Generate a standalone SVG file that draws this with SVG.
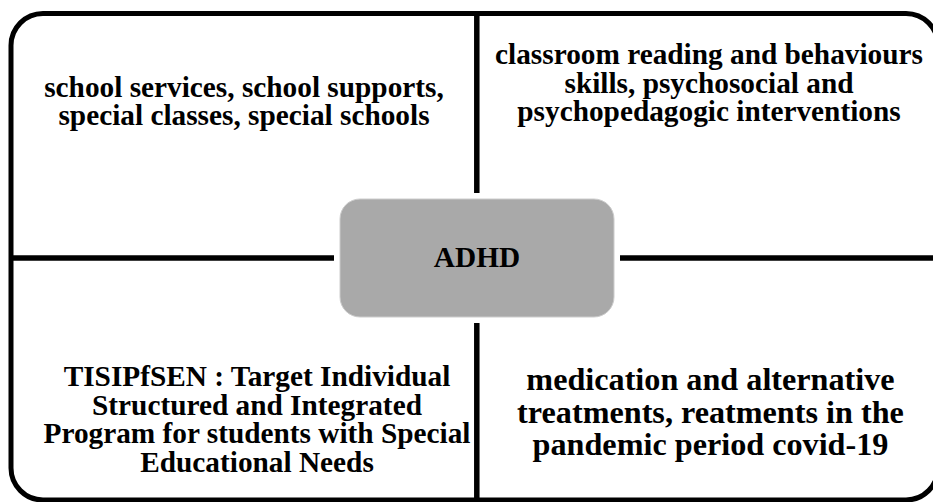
<svg xmlns="http://www.w3.org/2000/svg" width="933" height="502" viewBox="0 0 933 502">
<style>
.t{font-family:'Liberation Serif','Times New Roman',Times,serif;font-weight:700;fill:#000;text-anchor:middle}
.f29{font-size:29.3px}
.f32{font-size:32.2px}
.ln{stroke:#000;stroke-width:5.5;fill:none}
</style>
<rect x="0" y="0" width="933" height="502" fill="#fff"/>
<g id="frame">
<rect x="11" y="13.5" width="927" height="486.5" rx="32" ry="32" fill="none" stroke="#000" stroke-width="5"/>
</g>
<g id="connectors">
<line class="ln" x1="476.8" y1="13" x2="476.8" y2="193"/>
<line class="ln" x1="476.8" y1="323" x2="476.8" y2="500"/>
<line class="ln" x1="11" y1="258" x2="334" y2="258"/>
<line class="ln" x1="620" y1="258" x2="938" y2="258"/>
</g>
<g id="center">
<rect x="340" y="199" width="274" height="118" rx="20" ry="20" fill="#a9a9a9" stroke="#cccccc" stroke-width="1"/>
<text class="t f29" x="477" y="267">ADHD</text>
</g>
<g id="top-left">
<text class="t f29" x="244" y="97"><tspan x="244" y="97">school services, school supports,</tspan><tspan x="244" y="125">special classes, special schools</tspan></text>
</g>
<g id="top-right">
<text class="t f29" x="709" y="64"><tspan x="709" y="64">classroom reading and behaviours</tspan><tspan x="709" y="92.5">skills, psychosocial and</tspan><tspan x="709" y="121">psychopedagogic interventions</tspan></text>
</g>
<g id="bottom-left">
<text class="t f29" x="257" y="386"><tspan x="257" y="386">TISIPfSEN : Target Individual</tspan><tspan x="257" y="414.5">Structured and Integrated</tspan><tspan x="257" y="443">Program for students with Special</tspan><tspan x="257" y="471.5">Educational Needs</tspan></text>
</g>
<g id="bottom-right">
<text class="t f32" x="710.5" y="390"><tspan x="710.5" y="390">medication and alternative</tspan><tspan x="710.5" y="422.5">treatments, reatments in the</tspan><tspan x="710.5" y="455">pandemic period covid-19</tspan></text>
</g>
</svg>
